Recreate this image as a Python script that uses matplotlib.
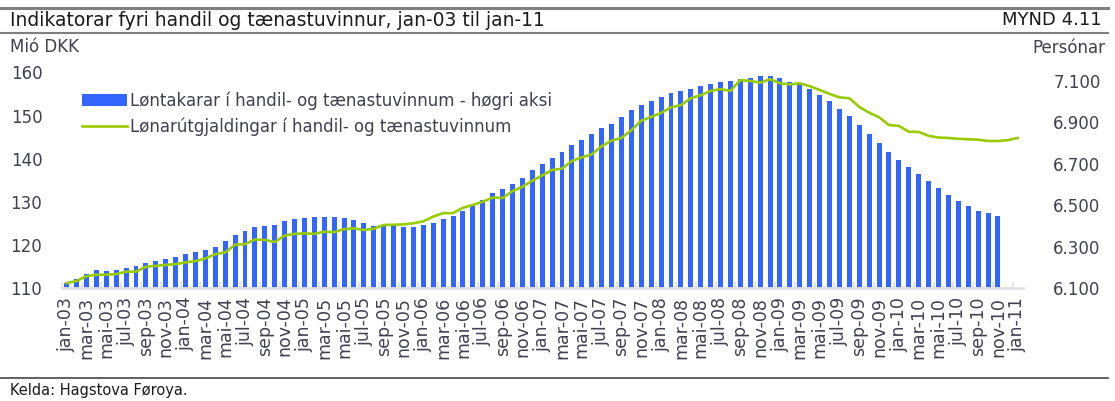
import matplotlib.pyplot as plt
import numpy as np
from matplotlib.lines import Line2D

# month labels jan-03 .. jan-11
month_names = ['jan', 'feb', 'mar', 'apr', 'mai', 'jun', 'jul', 'aug', 'sep', 'okt', 'nov', 'des']
months = ['%s-%02d' % (month_names[k % 12], 3 + k // 12) for k in range(97)]

# Løntakarar (right axis, persons), jan-03 .. nov-10
employees = [6124, 6145, 6169, 6188, 6183, 6188, 6198, 6207, 6223, 6231,
             6241, 6251, 6265, 6275, 6284, 6299, 6328, 6357, 6376, 6395,
             6400, 6405, 6424, 6434, 6439, 6443, 6443, 6443, 6439, 6429,
             6415, 6400, 6400, 6400, 6395, 6395, 6405, 6415, 6434, 6449,
             6472, 6496, 6525, 6559, 6580, 6602, 6631, 6670, 6699, 6728,
             6757, 6790, 6814, 6843, 6872, 6891, 6925, 6959, 6983, 7002,
             7021, 7041, 7050, 7060, 7074, 7084, 7094, 7098, 7108, 7113,
             7123, 7123, 7113, 7094, 7084, 7060, 7031, 7002, 6964, 6930,
             6887, 6843, 6800, 6757, 6718, 6684, 6651, 6617, 6583, 6549,
             6521, 6496, 6472, 6463, 6448]

# Lønarútgjaldingar (left axis, mió DKK), jan-03 .. jan-11
wages = [111.2, 111.7, 112.8, 113.15, 113.15, 113.3, 113.85, 113.85, 115.0, 115.2,
         115.4, 115.6, 116.0, 116.3, 116.9, 117.9, 118.3, 120.1, 120.2, 121.3,
         121.2, 120.7, 122.2, 122.6, 122.7, 122.6, 123.1, 123.0, 123.7, 123.9,
         123.5, 123.8, 124.65, 124.7, 124.8, 125.05, 125.5, 126.6, 127.4, 127.4,
         128.65, 129.3, 130.05, 131.0, 130.9, 132.5, 133.5, 134.9, 136.15, 137.4,
         137.7, 139.5, 140.3, 141.0, 142.9, 144.2, 144.8, 146.6, 148.8, 149.7,
         150.6, 151.9, 152.4, 154.0, 154.7, 155.7, 156.1, 155.7, 158.2, 158.0,
         157.6, 158.4, 157.45, 157.2, 157.45, 156.8, 155.9, 155.0, 154.2, 154.0,
         152.0, 150.65, 149.6, 147.8, 147.6, 146.25, 146.2, 145.3, 144.9, 144.8,
         144.6, 144.5, 144.4, 144.1, 144.1, 144.3, 144.8]

left_ticks = [110, 120, 130, 140, 150, 160]
right_ticks = [6100, 6300, 6500, 6700, 6900, 7100]

blue = '#3366FF'
green = '#99CC00'
txt = '#40404f'

fig = plt.figure(figsize=(11.15, 4.01), dpi=100)
W, H = 1115.0, 401.0
ax = fig.add_axes([61.7 / W, 1 - 288.3 / H, (1022.7 - 61.7) / W, (288.3 - 72.3) / H])
ax2 = ax.twinx()

x_bar = np.arange(len(employees))
x_line = np.arange(len(wages))

ax2.bar(x_bar, np.array(employees) - 6100, bottom=6100, width=0.5, color=blue,
        label='Løntakarar í handil- og tænastuvinnum - høgri aksi')
ln, = ax.plot(x_line, wages, color=green, lw=1.9,
              label='Lønarútgjaldingar í handil- og tænastuvinnum')

ax.set_zorder(ax2.get_zorder() + 1)
ax.patch.set_visible(False)

ax.set_xlim(-0.5, 96.5)
ax.set_ylim(110, 160)
ax2.set_ylim(6100, 7140.5)

ax.set_yticks(left_ticks)
ax.set_yticklabels([str(v) for v in left_ticks])
ax2.set_yticks(right_ticks)
ax2.set_yticklabels(['{:,}'.format(v).replace(',', '.') for v in right_ticks])

ax.set_xticks(x_line[::2])
ax.set_xticklabels(months[::2], rotation=90)
ax.set_xticks(x_line[::2] - 0.5, minor=True)

for a in (ax, ax2):
    for s in a.spines.values():
        s.set_visible(False)
ax.spines['bottom'].set_visible(True)
ax.spines['bottom'].set_color('#e0e0e8')
ax.spines['bottom'].set_linewidth(2)

ax.tick_params(axis='y', length=0, labelsize=12, labelcolor=txt, pad=14)
ax2.tick_params(axis='y', length=0, labelsize=12, labelcolor=txt, pad=22)
ax.tick_params(axis='x', which='major', length=0, labelsize=12.5, labelcolor=txt, pad=6)
ax.tick_params(axis='x', which='minor', length=4, direction='in', color='#e0e0e8', width=1.2)

handles, labels = ax2.get_legend_handles_labels()
leg = ax.legend(handles + [ln], labels + [ln.get_label()], loc='upper left',
                bbox_to_anchor=(82 / W, 1 - 91 / H), bbox_transform=fig.transFigure,
                frameon=False, fontsize=12, handlelength=2.7, handleheight=0.7,
                handletextpad=0.15, labelspacing=0.5, borderaxespad=0, borderpad=0)
for t in leg.get_texts():
    t.set_color(txt)

# header / footer
fig.add_artist(Line2D([0, 1108 / W], [1 - 8 / H] * 2, color='#7f7f7f', lw=2.2))
fig.add_artist(Line2D([0, 1108 / W], [1 - 33 / H] * 2, color='#7f7f7f', lw=1.5))
fig.add_artist(Line2D([0, 1108 / W], [1 - 378 / H] * 2, color='#555555', lw=1.3))
fig.text(10 / W, 1 - 20 / H, 'Indikatorar fyri handil og tænastuvinnur, jan-03 til jan-11',
         fontsize=13.5, color='#1a1a1a', va='center', ha='left')
fig.text(1102 / W, 1 - 20 / H, 'MYND 4.11', fontsize=13, color='#1a1a1a', va='center', ha='right')
fig.text(10 / W, 1 - 47 / H, 'Mió DKK', fontsize=12, color=txt, va='center', ha='left')
fig.text(1105 / W, 1 - 48 / H, 'Persónar', fontsize=12, color=txt, va='center', ha='right')
fig.text(10 / W, 1 - 391 / H, 'Kelda: Hagstova Føroya.', fontsize=10.5, color='#1a1a1a',
         va='center', ha='left')

fig.savefig('out.png', dpi=100)
